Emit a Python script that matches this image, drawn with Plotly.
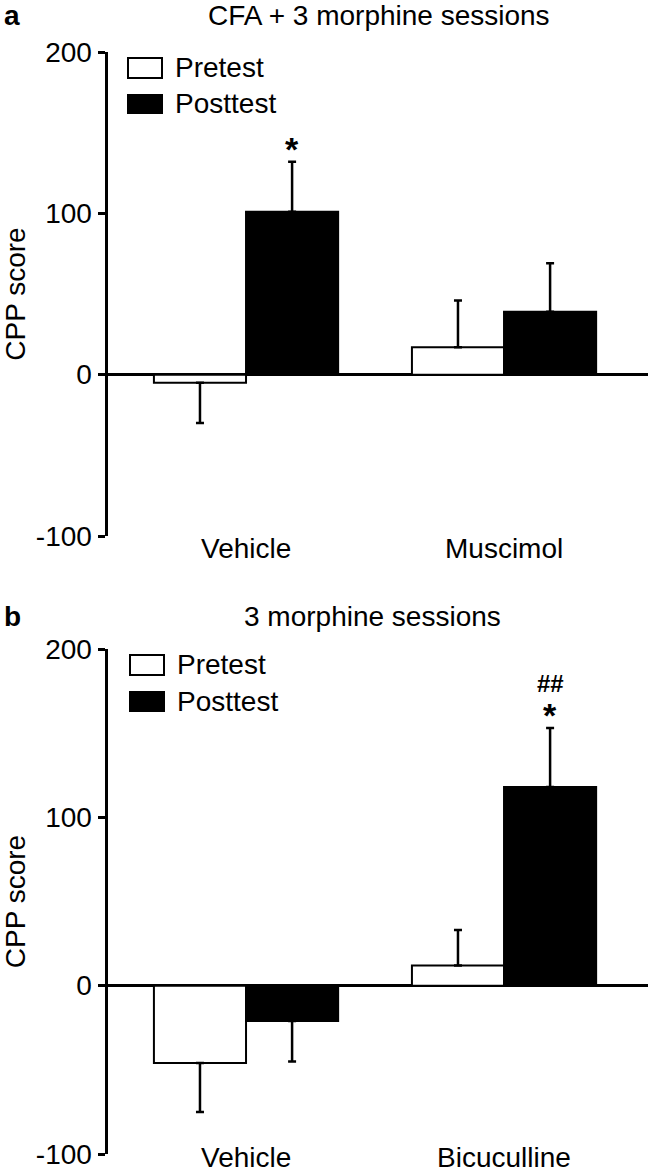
import plotly.graph_objects as go

W, H = 650, 1172

# ---------------- data ----------------
panel_titles = ["CFA + 3 morphine sessions", "3 morphine sessions"]
panel_letters = ["a", "b"]
series_names = ["Pretest", "Posttest"]

categories_a = ["Vehicle", "Muscimol"]
pre_a = [-5, 17]
pre_a_err = [25, 29]
post_a = [101, 39]
post_a_err = [31, 30]

categories_b = ["Vehicle", "Bicuculline"]
pre_b = [-46, 12]
pre_b_err = [29, 21]
post_b = [-21, 118]
post_b_err = [24, 35]

# significance marks above the posttest bars
sig_star_a = ["*", ""]
sig_star_b = ["", "*"]
sig_hash_b = ["", "##"]

y_tick_vals = [-100, 0, 100, 200]
y_tick_text = ["-100", "0", "100", "200"]
y_title = "CPP score"

# ---------------- style ----------------
FONT = "Liberation Sans, Arial, Helvetica, sans-serif"
FS = 28
BARGAP = 0.286


def px(x):
    return x / W


def py(y):
    return 1 - y / H


def split_err(vals, errs):
    up = [e if v >= 0 else 0 for v, e in zip(vals, errs)]
    down = [e if v < 0 else 0 for v, e in zip(vals, errs)]
    return up, down


def bar(cats, vals, errs, name, fill, xa, ya):
    up, down = split_err(vals, errs)
    return go.Bar(
        x=cats, y=vals, name=name, xaxis=xa, yaxis=ya, showlegend=False,
        marker=dict(color=fill, line=dict(color="black", width=2)),
        error_y=dict(type="data", symmetric=False, array=up, arrayminus=down,
                     color="black", thickness=2.5, width=4),
    )


fig = go.Figure()
fig.add_trace(bar(categories_a, pre_a, pre_a_err, series_names[0], "white", "x", "y"))
fig.add_trace(bar(categories_a, post_a, post_a_err, series_names[1], "black", "x", "y"))
fig.add_trace(bar(categories_b, pre_b, pre_b_err, series_names[0], "white", "x2", "y2"))
fig.add_trace(bar(categories_b, post_b, post_b_err, series_names[1], "black", "x2", "y2"))

x_dom = [px(108), px(648)]
x_range = [-0.535, 1.558]
y_dom_a = [py(536), py(52)]
y_dom_b = [py(1154), py(649)]


def xaxis(anchor):
    return dict(domain=x_dom, range=x_range, type="category", anchor=anchor,
                showline=False, showgrid=False, zeroline=False, ticks="",
                showticklabels=False, automargin=False, fixedrange=True)


def yaxis(anchor, dom):
    return dict(domain=dom, range=[-100, 200], anchor=anchor,
                tickvals=y_tick_vals, ticktext=y_tick_text,
                ticks="outside", ticklen=7, tickwidth=3, tickcolor="black",
                showline=True, linewidth=3.5, linecolor="black",
                showgrid=False, zeroline=True, zerolinewidth=3, zerolinecolor="black",
                automargin=False,
                tickfont=dict(family=FONT, size=FS, color="black"),
                title=dict(text=y_title, font=dict(family=FONT, size=FS, color="black")),
                fixedrange=True)


annotations = []
shapes = []

# panel titles and letters
for title, letter, ty, tx in [(panel_titles[0], panel_letters[0], 15, 379),
                             (panel_titles[1], panel_letters[1], 616, 372)]:
    annotations.append(dict(text=title, x=px(tx), y=py(ty), xref="paper", yref="paper",
                            xanchor="center", yanchor="middle", showarrow=False,
                            font=dict(family=FONT, size=FS, color="black")))
    annotations.append(dict(text="<b>" + letter + "</b>", x=px(2), y=py(ty), xref="paper",
                            yref="paper", xanchor="left", yanchor="middle", showarrow=False,
                            font=dict(family=FONT, size=FS, color="black")))

# category labels under each panel
for cats, xref, ly in [(categories_a, "x", 549), (categories_b, "x2", 1157)]:
    for c in cats:
        annotations.append(dict(text=c, x=c, y=py(ly), xref=xref, yref="paper",
                                xanchor="center", yanchor="middle", showarrow=False,
                                font=dict(family=FONT, size=FS, color="black")))

# legends (one per panel)
for (bx0, bx1, tx, rows) in [(128, 162, 173, [(58, 78), (95, 113)]),
                             (130, 164, 175, [(655, 675), (692, 711)])]:
    for (name, fill, (y0, y1)) in zip(series_names, ["white", "black"], rows):
        shapes.append(dict(type="rect", xref="paper", yref="paper",
                           x0=px(bx0), x1=px(bx1), y0=py(y1), y1=py(y0),
                           fillcolor=fill, line=dict(color="black", width=2)))
        annotations.append(dict(text=name, x=px(tx), y=py((y0 + y1) / 2), xref="paper",
                                yref="paper", xanchor="left", yanchor="middle",
                                showarrow=False,
                                font=dict(family=FONT, size=FS, color="black")))

# significance marks
offset = (1 - BARGAP) / 4
for i, s in enumerate(sig_star_a):
    if s:
        annotations.append(dict(text="<b>" + s + "</b>", x=i + offset,
                                y=post_a[i] + post_a_err[i],
                                xref="x", yref="y", yshift=13, showarrow=False,
                                xanchor="center", yanchor="middle",
                                font=dict(family=FONT, size=34, color="black")))
for i, s in enumerate(sig_star_b):
    if s:
        annotations.append(dict(text="<b>" + s + "</b>", x=i + offset,
                                y=post_b[i] + post_b_err[i],
                                xref="x2", yref="y2", yshift=13, showarrow=False,
                                xanchor="center", yanchor="middle",
                                font=dict(family=FONT, size=34, color="black")))
for i, s in enumerate(sig_hash_b):
    if s:
        annotations.append(dict(text="<b>" + s + "</b>", x=i + offset,
                                y=post_b[i] + post_b_err[i],
                                xref="x2", yref="y2", yshift=45, showarrow=False,
                                xanchor="center", yanchor="middle",
                                font=dict(family=FONT, size=24, color="black")))

fig.update_layout(
    width=W, height=H,
    margin=dict(l=0, r=0, t=0, b=0, pad=0, autoexpand=False),
    paper_bgcolor="white", plot_bgcolor="white",
    barmode="group", bargap=BARGAP, bargroupgap=0,
    showlegend=False,
    xaxis=xaxis("y"), yaxis=yaxis("x", y_dom_a),
    xaxis2=xaxis("y2"), yaxis2=yaxis("x2", y_dom_b),
    annotations=annotations, shapes=shapes,
    font=dict(family=FONT, color="black"),
)

fig.write_html(
    "out.html",
    config={"displayModeBar": False, "staticPlot": True},
    post_script="document.body.style.margin='0';document.body.style.overflow='hidden';",
)
